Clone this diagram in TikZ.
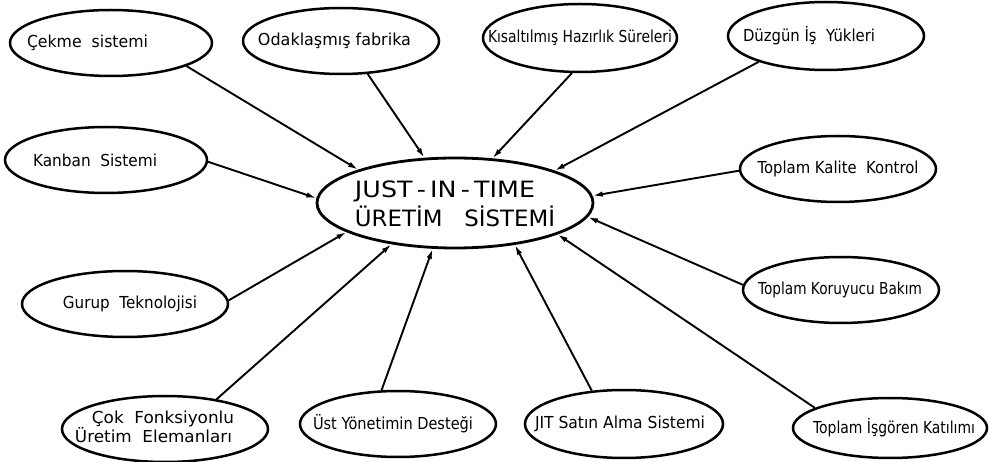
\documentclass[tikz,border=0pt]{standalone}
\usepackage{fontspec}
\setmainfont{DejaVu Sans}
\usetikzlibrary{shapes.geometric,arrows.meta}
\newcommand\lbl[3]{\makebox[0pt]{\kern#1pt\kern#1pt\makebox[0pt]{\resizebox{#2pt}{\height}{#3}}}}
\begin{document}
\begin{tikzpicture}[x=1pt,y=-1pt,
  bub/.style={ellipse,draw,line width=2.5pt,inner sep=0pt,minimum width=198pt,minimum height=66pt,font=\fontsize{16.5}{19}\selectfont},
  link/.style={line width=1.9pt,-{Latex[length=10pt,width=5.5pt]}}]
\useasboundingbox[fill=white] (0,0) rectangle (989,462);

\node[ellipse,draw,line width=2.8pt,inner sep=0pt,minimum width=276pt,minimum height=90pt,font=\fontsize{22.5}{27}\selectfont] (c) at (455,203)
  {\makebox[0pt]{\raisebox{-18pt}{\smash{\begin{tabular}{@{}l@{}}\resizebox{180pt}{\height}{JUST\,-\,IN\,-\,TIME}\\ \resizebox{200pt}{\height}{ÜRETİM\ \ \ SİSTEMİ}\end{tabular}}}}};

\node[bub,minimum width=202pt] (cek) at (111,43) {\lbl{-23.5}{121}{Çekme\ \ sistemi}};
\node[bub,minimum width=196pt] (odak) at (341,41) {\lbl{-6.5}{153}{Odaklaşmış fabrika}};
\node[bub,minimum width=194pt,minimum height=68pt] (kis) at (580,38) {\lbl{0}{184}{Kısaltılmış Hazırlık Süreleri}};
\node[bub,minimum width=196pt,minimum height=68pt] (duz) at (826,36) {\lbl{-17}{132}{Düzgün İş\ \ Yükleri}};
\node[bub,minimum width=202pt] (kan) at (106,160) {\lbl{-11}{124}{Kanban\ \ Sistemi}};
\node[bub,minimum width=196pt] (kal) at (838,169) {\lbl{0}{161}{Toplam Kalite\ \ Kontrol}};
\node[bub,minimum width=196pt] (kor) at (841,290) {\lbl{-1}{164}{Toplam Koruyucu Bakım}};
\node[bub,minimum width=206pt] (gur) at (125,304) {\lbl{5}{134}{Gurup\ \ Teknolojisi}};
\node[bub,minimum width=206pt] (cok) at (165,429)
  {\makebox[0pt]{\kern-4pt\makebox[0pt]{\begin{tabular}{@{}c@{}}\resizebox{142pt}{\height}{Çok\ \ Fonksiyonlu}\\[-2pt]\hspace*{-19pt}\resizebox{157pt}{\height}{Üretim\ \ Elemanları}\end{tabular}}}};
\node[bub,minimum width=196pt] (ust) at (398,424) {\lbl{-5}{160}{Üst Yönetimin Desteği}};
\node[bub,minimum width=198pt,minimum height=68pt] (jit) at (624,424) {\lbl{-4}{170}{JIT Satın Alma Sistemi}};
\node[bub,minimum width=194pt,minimum height=60pt] (isg) at (890,428) {\lbl{4}{162}{Toplam İşgören Katılımı}};

\draw[link] (cek.-17.7) -- (c.161.9);
\draw[link] (odak.-51.5) -- (c.124.3);
\draw[link] (kis.-103) -- (c.50.6);
\draw[link] (duz.-159) -- (c.18.4);
\draw[link] (kal.181) -- (c.3.3);
\draw[link] (kor.177) -- (c.-6.3);
\draw[link] (isg.165) -- (c.-17.6);
\draw[link] (jit.134) -- (c.-35.4);
\draw[link] (ust.116.6) -- (c.-116.6);
\draw[link] (cok.30.8) -- (c.-147.1);
\draw[link] (gur.2.2) -- (c.-165.5);
\draw[link] (kan.-1.7) -- (c.178.7);
\end{tikzpicture}
\end{document}
